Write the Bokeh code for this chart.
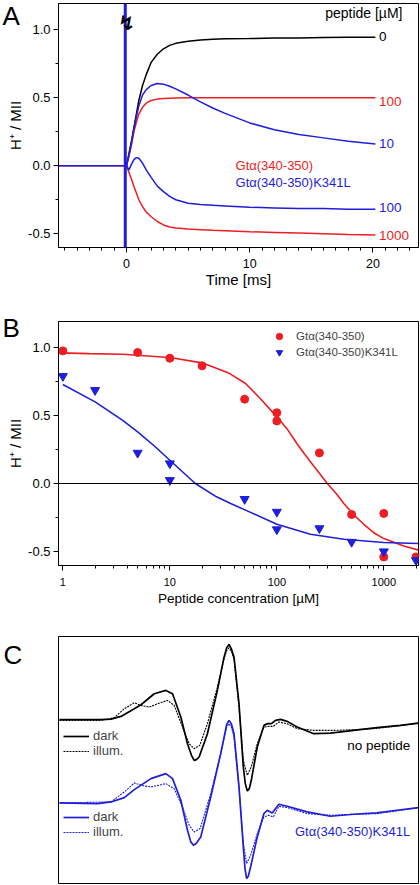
from bokeh.plotting import figure
from bokeh.layouts import column
from bokeh.models import (Span, Label, Legend, LegendItem, SingleIntervalTicker, Title,
                          FixedTicker, NumeralTickFormatter, Range1d)
from bokeh.embed import file_html
from bokeh.resources import INLINE

RED = "#ee1d23"
BLUE = "#1e1edc"
FONT = "Liberation Sans"

# ---------------- Panel A: proton uptake kinetics ----------------
a_t_pre = [-5.52, -2.5, -0.12]
a_y_pre = [0.0, 0.0, 0.0]
a_time = [0, 0.2, 0.4, 0.6, 0.8, 1.0, 1.3, 1.6, 2.0, 2.5, 3.0, 3.5, 4, 5, 6, 7, 8,
          10, 12, 14, 16, 18, 20.2]
a_black_0 = [0, 0.09, 0.18, 0.28, 0.38, 0.48, 0.59, 0.67, 0.76, 0.82, 0.86, 0.885, 0.9,
             0.915, 0.925, 0.93, 0.933, 0.935, 0.94, 0.94, 0.943, 0.945, 0.945]
a_red_100 = [0, 0.07, 0.15, 0.25, 0.32, 0.38, 0.43, 0.46, 0.48, 0.49, 0.495, 0.497, 0.498,
             0.5, 0.5, 0.5, 0.5, 0.5, 0.5, 0.5, 0.5, 0.5, 0.5]
a_blue_10 = [0, 0.08, 0.17, 0.27, 0.36, 0.44, 0.52, 0.56, 0.59, 0.605, 0.60, 0.585, 0.565,
             0.52, 0.47, 0.425, 0.385, 0.315, 0.265, 0.23, 0.205, 0.18, 0.16]
a_blue_100 = [0, -0.03, 0.01, 0.045, 0.06, 0.055, 0.02, -0.03, -0.085, -0.15, -0.19, -0.225,
              -0.25, -0.275, -0.285, -0.29, -0.295, -0.305, -0.31, -0.315, -0.315, -0.32, -0.32]
a_red_1000 = [0, -0.05, -0.1, -0.15, -0.2, -0.25, -0.3, -0.34, -0.375, -0.41, -0.435, -0.45,
              -0.458, -0.465, -0.47, -0.475, -0.478, -0.485, -0.49, -0.495, -0.5, -0.505, -0.51]
a_flash_time = -0.1

# ---------------- Panel B: titration ----------------
b_red_x = [1, 5, 10, 20, 50, 100, 100, 250, 500, 1000, 1000, 2000]
b_red_y = [0.975, 0.963, 0.921, 0.865, 0.62, 0.52, 0.46, 0.225, -0.228, -0.22, -0.54, -0.54]
b_blue_x = [1, 2, 5, 10, 10, 50, 100, 100, 250, 500, 1000, 2000]
b_blue_y = [0.789, 0.686, 0.225, 0.147, 0.024, -0.115, -0.209, -0.338, -0.33, -0.43, -0.50, -0.565]
b_red_fit_x = [0.93, 1.75, 3.6, 10, 20, 36, 51, 70, 100, 125, 155, 180, 206, 250, 296, 360,
               423, 530, 650, 800, 1000, 1540, 2110]
b_red_fit_y = [0.96, 0.955, 0.95, 0.926, 0.887, 0.81, 0.735, 0.625, 0.49, 0.40, 0.29, 0.22,
               0.16, 0.075, 0.0, -0.075, -0.147, -0.235, -0.30, -0.36, -0.405, -0.46, -0.49]
b_blue_fit_x = [1, 2, 3.6, 5, 7.3, 10, 17.3, 27.3, 37, 51, 100, 206, 423, 1000, 2110]
b_blue_fit_y = [0.728, 0.60, 0.466, 0.38, 0.27, 0.171, 0.0, -0.098, -0.147, -0.196, -0.30,
                -0.373, -0.41, -0.434, -0.441]

# ---------------- Panel C: spectra (arbitrary units) ----------------
c_k_dark_x = [3, 78, 128, 158, 188, 228, 248, 288, 323, 343, 368, 388, 400, 408, 415, 423, 448,
              478, 498, 506, 513, 520, 528, 543, 556, 562, 568, 574, 580, 598, 618, 628, 640,
              653, 668, 688, 718, 768, 818, 888, 958, 1028, 1083]
c_k_dark_y = [492, 492, 492, 494, 502, 525, 537, 570, 580, 570, 500, 420, 385, 370, 372, 380,
              450, 580, 680, 708, 718, 705, 680, 540, 350, 300, 278, 285, 310, 410, 475, 480,
              480, 490, 493, 487, 470, 450, 452, 460, 468, 475, 482]
c_k_ill_x = [3, 128, 168, 198, 228, 248, 273, 298, 328, 348, 373, 393, 408, 425, 448, 478, 498,
             506, 513, 520, 528, 543, 556, 568, 580, 598, 618, 633, 646, 663, 688, 718, 768,
             828, 888, 948, 1028, 1083]
c_k_ill_y = [490, 490, 498, 525, 543, 535, 530, 540, 550, 535, 470, 420, 405, 415, 480, 590,
             675, 700, 708, 698, 675, 530, 370, 325, 350, 420, 470, 472, 472, 485, 480, 465,
             460, 460, 462, 465, 474, 482]
c_b_dark_x = [3, 118, 158, 198, 228, 278, 323, 343, 368, 388, 398, 406, 414, 428, 458, 488, 506,
              513, 520, 528, 543, 556, 561, 566, 571, 578, 598, 618, 628, 643, 663, 688, 748,
              818, 888, 958, 1018, 1083]
c_b_dark_y = [242, 240, 245, 258, 282, 315, 330, 315, 250, 160, 125, 115, 120, 140, 260, 390,
              478, 490, 480, 450, 290, 110, 45, 15, 22, 50, 140, 210, 220, 212, 238, 232, 215,
              202, 208, 212, 220, 228]
c_b_ill_x = [3, 158, 198, 228, 258, 278, 323, 348, 373, 393, 408, 426, 458, 488, 506, 513, 520,
             528, 543, 556, 566, 578, 598, 618, 633, 646, 663, 688, 748, 818, 888, 958, 1018,
             1083]
c_b_ill_y = [242, 245, 275, 302, 293, 290, 300, 285, 230, 175, 155, 165, 270, 390, 470, 480,
             470, 440, 290, 120, 60, 85, 150, 200, 205, 200, 232, 228, 210, 205, 208, 210, 218,
             228]


def style_axis(ax, tick_font, label_font, standoff=3, label_standoff=1):
    ax.axis_line_color = "black"
    ax.axis_line_width = 1
    ax.major_tick_line_color = "black"
    ax.minor_tick_line_color = "black"
    ax.major_tick_in = 0
    ax.major_tick_out = 5
    ax.minor_tick_in = 0
    ax.minor_tick_out = 3
    ax.major_label_text_font = FONT
    ax.major_label_text_font_size = tick_font
    ax.major_label_text_color = "black"
    ax.axis_label_text_font = FONT
    ax.axis_label_text_font_size = label_font
    ax.axis_label_text_font_style = "normal"
    ax.axis_label_text_color = "black"
    ax.major_label_standoff = standoff
    ax.axis_label_standoff = label_standoff


def base_fig(left=58, **kw):
    p = figure(width=420, output_backend="svg", toolbar_location=None,
               min_border_left=left, min_border_right=2, **kw)
    p.grid.visible = False
    p.outline_line_color = "black"
    p.outline_line_alpha = 1
    p.outline_line_width = 1
    p.background_fill_color = "white"
    p.border_fill_color = "white"
    return p


def lab(p, x, y, text, color, size, align="left", baseline="middle"):
    p.add_layout(Label(x=x, y=y, text=text, text_color=color, text_font=FONT,
                       text_font_size=size, text_align=align, text_baseline=baseline))


def panel_letter(p, text, offset, standoff):
    p.add_layout(Title(text=text, text_font=FONT, text_font_size="26px",
                       text_font_style="normal", text_color="black", align="left",
                       vertical_align="bottom", offset=offset, standoff=standoff), "above")


# ---------------- Figure A ----------------
pA = base_fig(height=298, x_range=Range1d(-5.52, 23.7), y_range=Range1d(-0.601, 1.193),
              min_border_top=3, min_border_bottom=51)
pA.xaxis.ticker = SingleIntervalTicker(interval=10, num_minor_ticks=10)
pA.yaxis.ticker = SingleIntervalTicker(interval=0.5, num_minor_ticks=2)
pA.yaxis.formatter = NumeralTickFormatter(format="0.0")
pA.xaxis.axis_label = "Time [ms]"
pA.yaxis.axis_label = "H\u207a / MII"
style_axis(pA.xaxis[0], "12.5px", "15px", standoff=6, label_standoff=0)
style_axis(pA.yaxis[0], "13px", "15px")

pA.line(a_time, a_black_0, line_color="black", line_width=1.5)
pA.line(a_t_pre, a_y_pre, line_color=RED, line_width=1.5)
pA.line(a_time, a_red_100, line_color=RED, line_width=1.5)
pA.line(a_time, a_red_1000, line_color=RED, line_width=1.5)
pA.line(a_t_pre, a_y_pre, line_color=BLUE, line_width=1.5)
pA.line(a_time, a_blue_10, line_color=BLUE, line_width=1.5)
pA.line(a_time, a_blue_100, line_color=BLUE, line_width=1.5)
pA.add_layout(Span(location=a_flash_time, dimension="height", line_color=BLUE, line_width=3))

pA.add_layout(Label(x=0.0, y=1.05, text="\u21af", text_font="DejaVu Sans", text_font_size="20px",
                    text_align="center", text_baseline="middle", text_color="black",
                    text_font_style="bold"))

lab(pA, 22.4, 1.12, "peptide [\u00b5M]", "black", "14px", align="right")
lab(pA, 20.5, 0.95, "0", "black", "13.5px")
lab(pA, 20.5, 0.47, "100", RED, "13.5px")
lab(pA, 20.5, 0.165, "10", BLUE, "13.5px")
lab(pA, 20.5, -0.31, "100", BLUE, "13.5px")
lab(pA, 20.5, -0.51, "1000", RED, "13.5px")
lab(pA, 8.85, 0.005, "Gt\u03b1(340-350)", RED, "13px")
lab(pA, 8.85, -0.12, "Gt\u03b1(340-350)K341L", BLUE, "13px")
panel_letter(pA, "A", -56, -54)

# ---------------- Figure B ----------------
pB = base_fig(height=320, x_axis_type="log", x_range=Range1d(0.91, 2110),
              y_range=Range1d(-0.603, 1.191), min_border_top=23, min_border_bottom=53)
minor_b = [m * d for d in (1, 10, 100, 1000) for m in range(2, 10)]
pB.xaxis.ticker = FixedTicker(ticks=[1, 10, 100, 1000], minor_ticks=minor_b)
pB.xaxis.formatter = NumeralTickFormatter(format="0")
pB.yaxis.ticker = SingleIntervalTicker(interval=0.5, num_minor_ticks=2)
pB.yaxis.formatter = NumeralTickFormatter(format="0.0")
pB.xaxis.axis_label = "Peptide concentration [\u00b5M]"
pB.yaxis.axis_label = "H\u207a / MII"
style_axis(pB.xaxis[0], "11px", "13.5px", standoff=7, label_standoff=2)
style_axis(pB.yaxis[0], "13px", "15px")

pB.add_layout(Span(location=0, dimension="width", line_color="black", line_width=1.2))
pB.line(b_red_fit_x, b_red_fit_y, line_color=RED, line_width=1.6)
pB.line(b_blue_fit_x, b_blue_fit_y, line_color=BLUE, line_width=1.6)
rr = pB.scatter(b_red_x, b_red_y, marker="circle", size=8, fill_color=RED, line_color=RED)
rb = pB.scatter(b_blue_x, b_blue_y, marker="inverted_triangle", size=9, fill_color=BLUE,
                line_color=BLUE)
legB = Legend(items=[LegendItem(label="Gt\u03b1(340-350)", renderers=[rr]),
                     LegendItem(label="Gt\u03b1(340-350)K341L", renderers=[rb])],
              location=(211, 203), padding=2, margin=0, spacing=0,
              label_text_font=FONT, label_text_font_size="11.5px", label_height=16,
              glyph_height=16, glyph_width=16, label_standoff=9,
              border_line_alpha=0, background_fill_alpha=0)
pB.add_layout(legB)
panel_letter(pB, "B", -56, -43)

# ---------------- Figure C ----------------
pC = base_fig(left=57, height=267, x_range=Range1d(0, 1083), y_range=Range1d(0, 742),
              x_axis_location=None, y_axis_location=None, min_border_top=18,
              min_border_bottom=2)
k_dark = pC.line(c_k_dark_x, c_k_dark_y, line_color="black", line_width=1.7)
k_ill = pC.line(c_k_ill_x, c_k_ill_y, line_color="black", line_width=1.1, line_dash="2 1")
b_dark = pC.line(c_b_dark_x, c_b_dark_y, line_color=BLUE, line_width=1.7)
b_ill = pC.line(c_b_ill_x, c_b_ill_y, line_color=BLUE, line_width=1.1, line_dash="2 1")


def legC(items, loc):
    return Legend(items=items, location=loc, padding=0, margin=0, spacing=0,
                  label_text_font=FONT, label_text_font_size="13px", label_height=14,
                  glyph_height=14, glyph_width=26, label_standoff=4,
                  border_line_alpha=0, background_fill_alpha=0)


pC.add_layout(legC([LegendItem(label="dark", renderers=[k_dark]),
                    LegendItem(label="illum.", renderers=[k_ill])], (5, 125)))
pC.add_layout(legC([LegendItem(label="dark", renderers=[b_dark]),
                    LegendItem(label="illum.", renderers=[b_ill])], (5, 44)))
lab(pC, 1058, 415, "no peptide", "black", "13.5px", align="right")
lab(pC, 1058, 157, "Gt\u03b1(340-350)K341L", BLUE, "13px", align="right")
panel_letter(pC, "C", -55, -66)

layout = column(pA, pB, pC, spacing=0)
open("out.html", "w").write(file_html(layout, INLINE))
